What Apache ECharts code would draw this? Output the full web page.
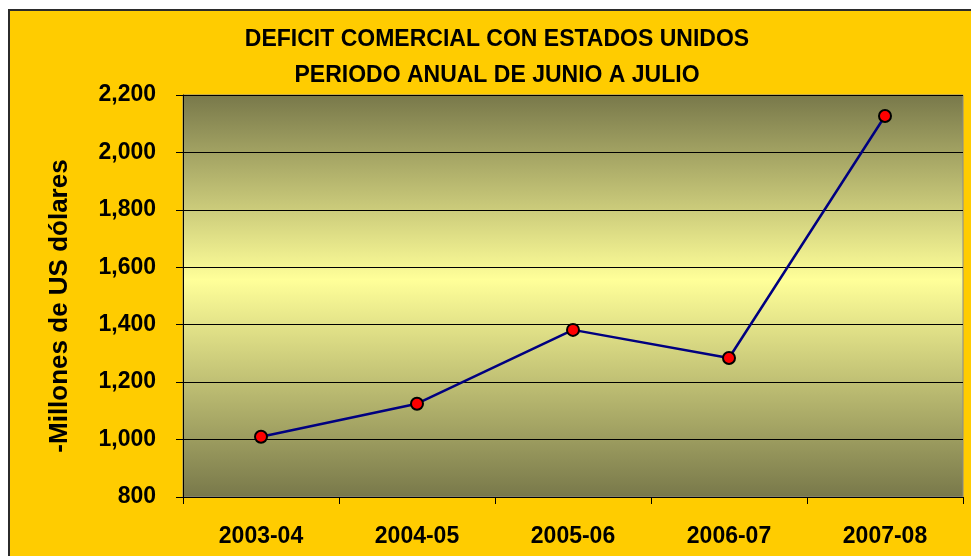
<!DOCTYPE html>
<html>
<head>
<meta charset="utf-8">
<script src="https://cdn.jsdelivr.net/npm/echarts@6/dist/echarts.min.js"></script>
<style>
  html, body { margin: 0; padding: 0; background: #fff; }
  #chart { width: 971px; height: 556px; }
</style>
</head>
<body>
<div id="chart"></div>
<script>
// periodos anuales (junio a julio)
var periodos = ["2003-04", "2004-05", "2005-06", "2006-07", "2007-08"];
// deficit, millones de US dolares
var deficit = [1010, 1125, 1382, 1284, 2127];
var yTicks = { min: 800, max: 2200, step: 200 };

var chart = echarts.init(document.getElementById("chart"));

var option = {
  backgroundColor: "#ffffff",
  animation: false,
  graphic: [{
    type: "rect",
    z: -10,
    shape: { x: 9, y: 10, width: 980, height: 560 },
    style: { fill: "#FFCC00", stroke: "#2b2b2b", lineWidth: 2 }
  }],
  title: {
    text: "DEFICIT COMERCIAL CON ESTADOS UNIDOS\nPERIODO ANUAL DE JUNIO A JULIO",
    left: 492,
    top: 17,
    textAlign: "center",
    textStyle: {
      fontFamily: "Liberation Sans",
      fontWeight: "bold",
      fontSize: 23,
      lineHeight: 36,
      color: "#000"
    }
  },
  grid: {
    left: 183,
    top: 95,
    right: 8,
    bottom: 59,
    show: true,
    borderColor: "#8a8a8a",
    borderWidth: 1,
    backgroundColor: new echarts.graphic.LinearGradient(0, 0, 0, 1, [
      { offset: 0, color: "rgb(120, 120, 74)" },
      { offset: 0.46, color: "rgb(255, 255, 153)" },
      { offset: 1, color: "rgb(120, 120, 74)" }
    ])
  },
  xAxis: {
    type: "category",
    data: periodos,
    boundaryGap: true,
    axisLine: { lineStyle: { color: "#000", width: 1 } },
    axisTick: { show: true, length: 7, lineStyle: { color: "#000" } },
    axisLabel: {
      margin: 28,
      fontFamily: "Liberation Sans",
      fontWeight: "bold",
      fontSize: 23,
      color: "#000"
    }
  },
  yAxis: {
    type: "value",
    min: yTicks.min,
    max: yTicks.max,
    interval: yTicks.step,
    name: "-Millones de US dólares",
    nameLocation: "middle",
    nameRotate: 90,
    nameGap: 110,
    nameTextStyle: {
      fontFamily: "Liberation Sans",
      fontWeight: "bold",
      fontSize: 26,
      color: "#000",
      padding: [0, 20, 0, 0]
    },
    axisLine: { show: true, lineStyle: { color: "#000", width: 1 } },
    axisTick: { show: true, length: 7, lineStyle: { color: "#000" } },
    splitLine: { show: true, lineStyle: { color: "#000", width: 1 } },
    axisLabel: {
      margin: 27,
      fontFamily: "Liberation Sans",
      fontWeight: "bold",
      fontSize: 23,
      color: "#000",
      formatter: function (v) {
        return v.toLocaleString("en-US");
      }
    }
  },
  series: [{
    type: "line",
    data: deficit,
    symbol: "circle",
    symbolSize: 12,
    lineStyle: { color: "#000080", width: 2.5 },
    itemStyle: { color: "#ff0000", borderColor: "#000", borderWidth: 2 }
  }]
};

chart.setOption(option);
</script>
</body>
</html>
